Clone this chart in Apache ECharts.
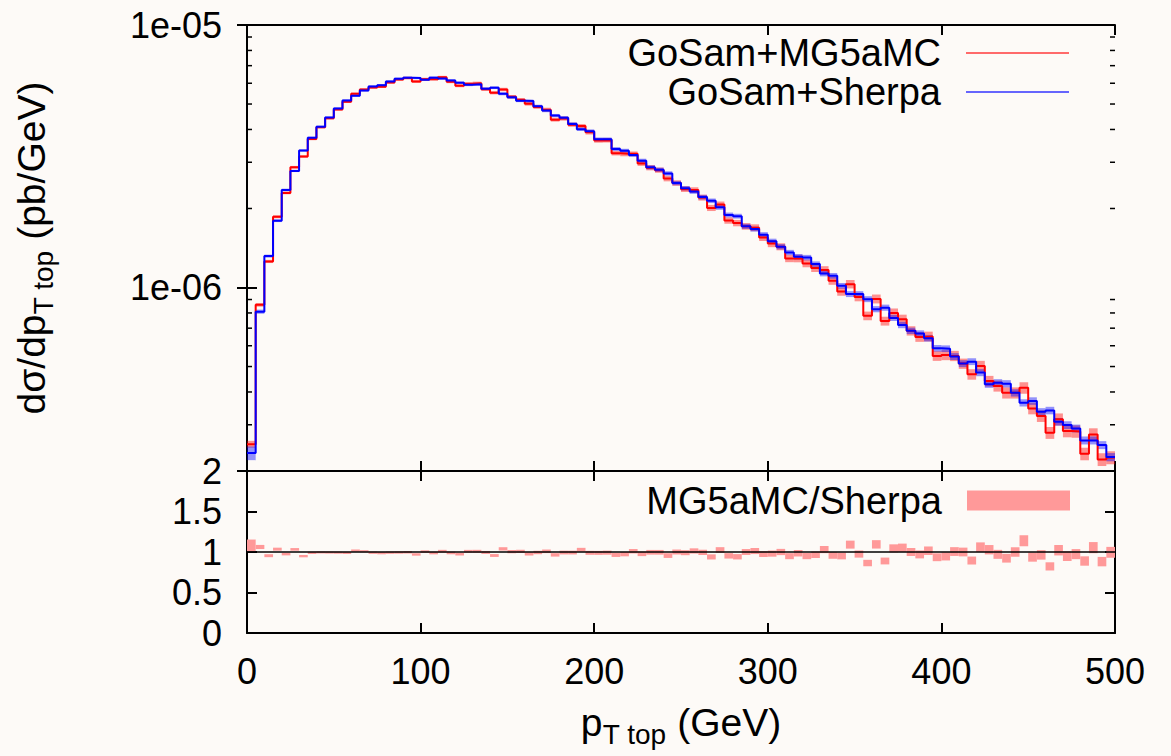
<!DOCTYPE html>
<html>
<head>
<meta charset="utf-8">
<script src="https://cdn.jsdelivr.net/npm/echarts@6/dist/echarts.min.js"></script>
<style>
html,body{margin:0;padding:0;background:#fdfaf7;}
#chart{width:1171px;height:756px;}
</style>
</head>
<body>
<div id="chart"></div>
<script>
// ---------------- data (values in units of 1e-6 pb/GeV) ----------------
const UNIT = 1e-6;
const BIN_WIDTH = 5; // GeV
const seriesNames = ['GoSam+MG5aMC', 'GoSam+Sherpa'];
const ratioName = 'MG5aMC/Sherpa';

const mg5Values = [
  0.253, 0.859, 1.257, 1.86, 2.293, 2.871, 3.153, 3.68, 4.08, 4.41,
  4.77, 5.10, 5.47, 5.68, 5.78, 5.82, 6.04, 6.20, 6.28, 6.09,
  6.22, 6.22, 6.32, 6.08, 5.87, 5.97, 6.00, 5.69, 5.52, 5.68,
  5.33, 5.19, 5.01, 4.87, 4.76, 4.36, 4.40, 4.17, 4.12, 3.90,
  3.63, 3.64, 3.25, 3.23, 3.23, 2.97, 2.86, 2.80, 2.60, 2.50,
  2.37, 2.35, 2.20, 2.01, 2.07, 1.80, 1.76, 1.71, 1.69, 1.55,
  1.47, 1.43, 1.29, 1.29, 1.235, 1.186, 1.165, 1.061, 0.965, 1.03,
  0.92, 0.78, 0.905, 0.745, 0.80, 0.757, 0.684, 0.648, 0.651, 0.549,
  0.553, 0.549, 0.513, 0.467, 0.502, 0.440, 0.4215, 0.397, 0.397, 0.415,
  0.3464, 0.324, 0.2796, 0.3147, 0.2838, 0.2830, 0.2325, 0.2757, 0.2213, 0.2250
];
const sherpaValues = [
  0.234, 0.809, 1.317, 1.797, 2.354, 2.781, 3.324, 3.72, 4.10, 4.44,
  4.81, 5.16, 5.38, 5.63, 5.83, 5.90, 6.09, 6.24, 6.30, 6.28,
  6.19, 6.30, 6.26, 6.15, 6.03, 5.92, 5.95, 5.72, 5.77, 5.47,
  5.31, 5.15, 5.13, 4.90, 4.72, 4.52, 4.43, 4.20, 4.01, 3.94,
  3.67, 3.67, 3.37, 3.32, 3.20, 3.04, 2.87, 2.81, 2.72, 2.50,
  2.39, 2.32, 2.21, 2.14, 2.02, 1.89, 1.87, 1.71, 1.67, 1.59,
  1.50, 1.43, 1.36, 1.31, 1.30, 1.228, 1.131, 1.108, 1.015, 0.944,
  0.944, 0.903, 0.827, 0.838, 0.766, 0.720, 0.684, 0.668, 0.641, 0.587,
  0.585, 0.546, 0.513, 0.522, 0.474, 0.428, 0.434, 0.430, 0.397, 0.364,
  0.3695, 0.336, 0.340, 0.308, 0.2992, 0.2906, 0.2616, 0.2616, 0.2511, 0.2259
];
const mg5ErrPct = [
  3.0, 1.6, 1.4, 1.3, 1.2, 1.2, 1.1, 1.1, 1.0, 1.0,
  1.0, 1.0, 1.1, 1.0, 1.1, 1.1, 1.1, 1.1, 1.2, 1.2,
  1.2, 1.2, 1.3, 1.3, 1.3, 1.3, 1.4, 1.4, 1.4, 1.5,
  1.5, 1.5, 1.6, 1.6, 1.7, 1.7, 1.8, 1.8, 1.8, 1.9,
  1.9, 2.0, 2.0, 2.1, 2.1, 2.2, 2.3, 2.3, 2.4, 2.4,
  2.5, 2.5, 2.6, 2.7, 2.7, 2.8, 2.8, 2.9, 3.0, 3.0,
  3.1, 3.1, 3.2, 3.3, 3.3, 3.4, 3.5, 3.5, 3.6, 3.7,
  3.7, 3.8, 3.9, 3.9, 4.0, 4.1, 4.1, 4.2, 4.3, 4.3,
  4.4, 4.5, 4.5, 4.6, 4.7, 4.7, 4.8, 4.9, 4.9, 5.0,
  5.1, 5.1, 5.2, 5.3, 5.3, 5.4, 5.5, 5.5, 5.6, 5.7
];
const sherpaErrPct = [
  6.0, 1.8, 1.3, 1.2, 1.1, 1.0, 1.0, 0.9, 0.9, 0.9,
  0.9, 0.9, 0.9, 0.9, 1.0, 1.0, 1.0, 1.0, 1.0, 1.0,
  1.0, 1.1, 1.1, 1.1, 1.1, 1.2, 1.2, 1.2, 1.2, 1.3,
  1.3, 1.3, 1.3, 1.4, 1.4, 1.4, 1.5, 1.5, 1.5, 1.6,
  1.6, 1.6, 1.7, 1.7, 1.7, 1.8, 1.8, 1.8, 1.9, 1.9,
  1.9, 2.0, 2.0, 2.0, 2.1, 2.1, 2.1, 2.2, 2.2, 2.2,
  2.3, 2.3, 2.3, 2.4, 2.4, 2.4, 2.5, 2.5, 2.5, 2.6,
  2.6, 2.6, 2.7, 2.7, 2.7, 2.8, 2.8, 2.8, 2.9, 2.9,
  2.9, 3.0, 3.0, 3.0, 3.1, 3.1, 3.1, 3.2, 3.2, 3.2,
  3.3, 3.3, 3.3, 3.4, 3.4, 3.4, 3.5, 3.5, 3.5, 3.6
];

const xTickValues = [0, 100, 200, 300, 400, 500];
const xTickLabels = ['0', '100', '200', '300', '400', '500'];
const topTickValues = [1e-6, 1e-5];
const topTickLabels = ['1e-06', '1e-05'];
const topMinorTicks = [3e-7, 4e-7, 5e-7, 6e-7, 7e-7, 8e-7, 9e-7, 2e-6, 3e-6, 4e-6, 5e-6, 6e-6, 7e-6, 8e-6, 9e-6];
const ratioTickValues = [0, 0.5, 1, 1.5, 2];
const ratioTickLabels = ['0', '0.5', '1', '1.5', '2'];

// ---------------- build ----------------
const FONT = '"Liberation Sans", Arial, Helvetica, sans-serif';
const nBins = mg5Values.length;

function stepData(vals) {
  const d = vals.map((v, i) => [i * BIN_WIDTH, v * UNIT]);
  d.push([nBins * BIN_WIDTH, vals[nBins - 1] * UNIT]);
  return d;
}
function bandData(vals, errs) {
  return vals.map((v, i) => [i * BIN_WIDTH, (i + 1) * BIN_WIDTH, v * UNIT * (1 - errs[i] / 100), v * UNIT * (1 + errs[i] / 100)]);
}
const ratioData = mg5Values.map((v, i) => {
  const r = v / sherpaValues[i];
  const e = r * Math.hypot(mg5ErrPct[i], sherpaErrPct[i]) / 100;
  return [i * BIN_WIDTH, (i + 1) * BIN_WIDTH, r - e, r + e];
});

function rectItem(params, api) {
  const p0 = api.coord([api.value(0), api.value(3)]);
  const p1 = api.coord([api.value(1), api.value(2)]);
  const cs = params.coordSys;
  const shape = echarts.graphic.clipRectByRect(
    { x: p0[0], y: p0[1], width: p1[0] - p0[0], height: p1[1] - p0[1] },
    { x: cs.x, y: cs.y, width: cs.width, height: cs.height });
  if (!shape) return;
  return { type: 'rect', shape: shape, style: api.style() };
}
const MINOR_LEN = 5;
function minorTickItem(params, api) {
  const cs = params.coordSys;
  const y = api.coord([0, api.value(1)])[1];
  const st = { stroke: '#000', lineWidth: 1.5 };
  return { type: 'group', children: [
    { type: 'line', shape: { x1: cs.x, y1: y, x2: cs.x + MINOR_LEN, y2: y }, style: st },
    { type: 'line', shape: { x1: cs.x + cs.width - MINOR_LEN, y1: y, x2: cs.x + cs.width, y2: y }, style: st }
  ]};
}

function labelFrom(values, labels, isLog) {
  return function (v) {
    for (let i = 0; i < values.length; i++) {
      const a = isLog ? Math.log10(v) : v;
      const b = isLog ? Math.log10(values[i]) : values[i];
      if (Math.abs(a - b) < 1e-6) return labels[i];
    }
    return '';
  };
}

const axisLineStyle = { color: '#000', width: 2 };
const tickStyle = { inside: true, length: 10, lineStyle: { color: '#000', width: 2 } };
const labelStyle = { fontSize: 36, fontFamily: FONT, color: '#000' };
const nameRich = {
  m: { fontSize: 39, fontFamily: FONT, color: '#000' },
  s: { fontSize: 28, fontFamily: FONT, color: '#000', padding: [23, 0, 0, 0] }
};

function xAxisDef(gridIndex, position, showLabel, extra) {
  return Object.assign({
    type: 'value', gridIndex: gridIndex, position: position, min: 0, max: 500, interval: 100,
    axisLine: { show: true, onZero: false, lineStyle: axisLineStyle },
    axisTick: tickStyle,
    splitLine: { show: false },
    axisLabel: showLabel ? Object.assign({ margin: 20, formatter: labelFrom(xTickValues, xTickLabels, false) }, labelStyle) : { show: false }
  }, extra || {});
}

const option = {
  backgroundColor: '#fdfaf7',
  animation: false,
  textStyle: { fontFamily: FONT },
  grid: [
    { left: 247, top: 25, width: 868, height: 446 },
    { left: 247, top: 471, width: 868, height: 162 }
  ],
  xAxis: [
    xAxisDef(0, 'bottom', false),
    xAxisDef(0, 'top', false),
    xAxisDef(1, 'bottom', true, {
      name: '{m|p}{s|T top}{m| (GeV)}', nameLocation: 'middle', nameGap: 64,
      nameTextStyle: { rich: nameRich }
    }),
    xAxisDef(1, 'top', false)
  ],
  yAxis: [
    {
      type: 'log', logBase: 10, gridIndex: 0, position: 'left', min: 2e-7, max: 1e-5,
      axisLine: { show: true, lineStyle: axisLineStyle },
      axisTick: tickStyle, splitLine: { show: false }, minorTick: { show: false },
      axisLabel: Object.assign({ margin: 25, formatter: labelFrom(topTickValues, topTickLabels, true) }, labelStyle),
      name: '{m|dσ/dp}{s|T top}{m| (pb/GeV)}', nameLocation: 'middle', nameGap: 190, nameRotate: 90,
      nameTextStyle: { rich: nameRich }
    },
    {
      type: 'log', logBase: 10, gridIndex: 0, position: 'right', min: 2e-7, max: 1e-5,
      axisLine: { show: true, lineStyle: axisLineStyle },
      axisTick: tickStyle, splitLine: { show: false }, axisLabel: { show: false }
    },
    {
      type: 'value', gridIndex: 1, position: 'left', min: 0, max: 2, interval: 0.5,
      axisLine: { show: true, onZero: false, lineStyle: axisLineStyle },
      axisTick: tickStyle, splitLine: { show: false },
      axisLabel: Object.assign({ margin: 25, formatter: labelFrom(ratioTickValues, ratioTickLabels, false) }, labelStyle)
    },
    {
      type: 'value', gridIndex: 1, position: 'right', min: 0, max: 2, interval: 0.5,
      axisLine: { show: true, onZero: false, lineStyle: axisLineStyle },
      axisTick: tickStyle, splitLine: { show: false }, axisLabel: { show: false }
    }
  ],
  legend: [
    {
      data: [
        { name: seriesNames[0], lineStyle: { color: '#ff6a6a', width: 2 }, itemStyle: { opacity: 0 } },
        { name: seriesNames[1], lineStyle: { color: '#3333ff', width: 1.5 }, itemStyle: { opacity: 0 } }
      ],
      orient: 'vertical', right: 96, top: 28.5, align: 'right', selectedMode: false,
      itemWidth: 103, itemHeight: 14, itemGap: 0,
      textStyle: { fontSize: 38, lineHeight: 39, fontFamily: FONT, color: '#000', padding: [0, 20, 0, 0] }
    },
    {
      data: [{ name: ratioName, icon: 'rect' }],
      orient: 'vertical', right: 96, top: 476, align: 'right', selectedMode: false,
      itemWidth: 103, itemHeight: 20, itemGap: 0,
      textStyle: { fontSize: 38, lineHeight: 39, fontFamily: FONT, color: '#000', padding: [0, 20, 0, 0] }
    }
  ],
  series: [
    {
      name: seriesNames[0] + ' band', type: 'custom', xAxisIndex: 0, yAxisIndex: 0,
      renderItem: rectItem, encode: { x: [0, 1], y: [2, 3] },
      itemStyle: { color: 'rgba(255,0,0,0.42)' }, data: bandData(mg5Values, mg5ErrPct), z: 1
    },
    {
      name: seriesNames[1] + ' band', type: 'custom', xAxisIndex: 0, yAxisIndex: 0,
      renderItem: rectItem, encode: { x: [0, 1], y: [2, 3] },
      itemStyle: { color: 'rgba(0,0,255,0.42)' }, data: bandData(sherpaValues, sherpaErrPct), z: 1
    },
    {
      name: seriesNames[0], type: 'line', xAxisIndex: 0, yAxisIndex: 0, step: 'end',
      symbol: 'none', lineStyle: { color: '#ff0000', width: 2 }, itemStyle: { color: '#ff0000' },
      data: stepData(mg5Values), z: 2
    },
    {
      name: seriesNames[1], type: 'line', xAxisIndex: 0, yAxisIndex: 0, step: 'end',
      symbol: 'none', lineStyle: { color: '#0000ff', width: 2 }, itemStyle: { color: '#0000ff' },
      data: stepData(sherpaValues), z: 3
    },
    {
      name: 'minor ticks', type: 'custom', xAxisIndex: 0, yAxisIndex: 0,
      renderItem: minorTickItem, data: topMinorTicks.map(v => [0, v]), z: 5, silent: true
    },
    {
      name: ratioName, type: 'custom', xAxisIndex: 2, yAxisIndex: 2,
      renderItem: rectItem, encode: { x: [0, 1], y: [2, 3] },
      itemStyle: { color: '#ff9999' }, data: ratioData, z: 1,
      markLine: {
        silent: true, symbol: 'none', label: { show: false },
        lineStyle: { color: '#000', width: 1.5, type: 'solid' },
        data: [{ yAxis: 1 }]
      }
    }
  ]
};

const chart = echarts.init(document.getElementById('chart'), null, { renderer: 'svg' });
chart.setOption(option);
</script>
</body>
</html>
